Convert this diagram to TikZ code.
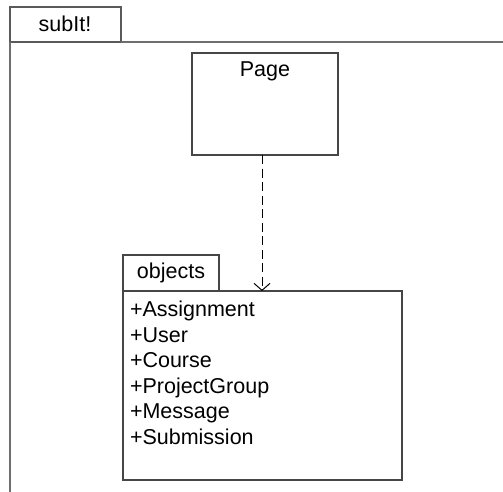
\documentclass[tikz,border=0pt]{standalone}
\usepackage{fontspec}
\setmainfont{Liberation Sans}
\usetikzlibrary{arrows.meta}
\definecolor{framegray}{RGB}{110,110,110}
\definecolor{tabgray}{RGB}{90,90,90}
\definecolor{boxgray}{RGB}{70,70,70}
\begin{document}
\begin{tikzpicture}[x=1pt,y=-1pt,
  every node/.style={inner sep=0pt, outer sep=0pt},
  umlfont/.style={font=\fontsize{21.5}{25}\selectfont},
  frameline/.style={draw=framegray, line width=1.8pt},
  framebox/.style={draw=tabgray, line width=1.4pt, fill=white, anchor=north west},
  umlbox/.style={draw=boxgray, line width=1.3pt, fill=white, anchor=north west},
  depend/.style={draw=black, line width=1pt, dash pattern=on 9pt off 4.5pt,
    -{Straight Barb[length=7pt,width=16pt,line width=1pt]}}]
\useasboundingbox (0,0) rectangle (503,492);

% enclosing frame with its name tab
\node[framebox, minimum width=111pt, minimum height=35pt] (frametab) at (10,7) {};
\node[umlfont, anchor=base] (frametitle) at (65,31.5) {subIt!};
\coordinate (frameright) at (503,42);
\coordinate (framebottom) at (10,492);
\draw[frameline] (frametab.south east) -- (frameright);
\draw[frameline] (frametab.south west) -- (framebottom);

% class Page
\node[umlbox, minimum width=146pt, minimum height=102pt] (page) at (192,53) {};
\node[umlfont, anchor=base] (pagename) at (265,77) {Page};

% package objects
\node[umlbox, minimum width=96pt, minimum height=36pt] (objtab) at (123,255) {};
\node[umlfont, anchor=base] (objname) at (171,278) {objects};
\node[umlbox, minimum width=279pt, minimum height=189pt] (objbody) at (123,291) {};
\foreach \t [count=\i] in {+Assignment,+User,+Course,+ProjectGroup,+Message,+Submission}
  \node[umlfont, anchor=base west] (item\i) at (130,{316.5+25.5*(\i-1)}) {\t};

% dependency from Page to objects
\coordinate (depstart) at ([xshift=-3pt]page.south);
\draw[depend] (depstart) -- (depstart |- objbody.north);
\end{tikzpicture}
\end{document}
